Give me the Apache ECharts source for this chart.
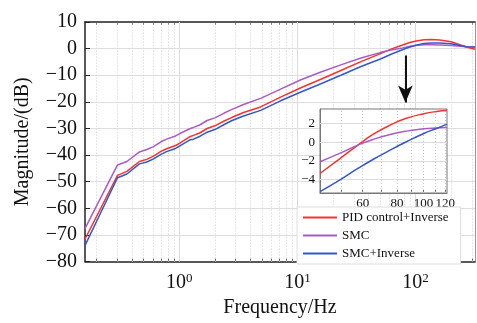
<!DOCTYPE html>
<html>
<head>
<meta charset="utf-8">
<script src="https://cdn.jsdelivr.net/npm/echarts@6/dist/echarts.min.js"></script>
<title>Magnitude</title>
<style>
  html, body { margin: 0; padding: 0; background: #fff; }
  #c { width: 477px; height: 323px; }
</style>
</head>
<body>
<div id="c"></div>
<script>
// main plot data (Hz, dB)
var freq   = [0.159, 0.30, 0.36, 0.46, 0.53, 0.60, 0.70, 0.78, 0.93, 1.02, 1.24, 1.32, 1.5, 1.72, 2.0, 2.4, 2.8, 3.5, 4.88, 7.2, 10.7, 15.8, 23.3, 34.5, 51, 62, 75.5, 88, 101, 118, 136, 160, 200, 269, 318];
var pidInv = [-71.6, -47.6, -46.1, -42.4, -41.6, -40.5, -38.6, -37.6, -36.4, -35.4, -33.0, -32.6, -31.6, -30.0, -29.0, -27.2, -25.8, -24.0, -21.9, -18.2, -14.7, -11.5, -8.2, -4.9, -1.8, -0.2, 1.2, 2.2, 2.9, 3.3, 3.4, 3.2, 2.6, 0.6, -0.2];
var smc    = [-67.6, -43.7, -42.4, -38.8, -37.9, -36.9, -35.0, -34.0, -32.8, -31.8, -30.0, -29.6, -28.6, -27.0, -26.0, -24.2, -22.8, -21.0, -18.7, -15.2, -11.7, -8.8, -6.1, -3.5, -1.4, -0.5, 0.1, 0.8, 1.3, 1.5, 1.5, 1.4, 1.2, 0.7, 0.6];
var smcInv = [-74.0, -48.5, -47.1, -43.3, -42.6, -41.5, -39.7, -38.7, -37.5, -36.4, -34.2, -34.0, -32.9, -31.4, -30.4, -28.5, -27.0, -25.3, -23.2, -19.6, -16.3, -13.2, -10.0, -6.7, -3.8, -2.1, -0.6, 0.5, 1.3, 1.9, 2.1, 2.1, 1.8, 0.7, 0.6];

// zoomed inset data
var insetFreq   = [41.9, 49.4, 57.6, 65.4, 75.5, 86.6, 100.3, 111.6, 121.9];
var insetPid    = [-3.36, -1.8, -0.32, 0.82, 1.82, 2.55, 3.05, 3.28, 3.38];
var insetSmc    = [-2.1, -1.2, -0.32, 0.29, 0.82, 1.18, 1.43, 1.52, 1.57];
var insetSmcInv = [-5.3, -4.07, -2.82, -1.86, -0.86, 0.04, 0.93, 1.46, 1.93];

var names = ['PID control+Inverse', 'SMC', 'SMC+Inverse'];
var colors = ['#F5332F', '#A85CC4', '#3558C9'];

var xMajor = [1, 10, 100];
var xMinor = [0.2, 0.3, 0.4, 0.5, 0.6, 0.7, 0.8, 0.9, 2, 3, 4, 5, 6, 7, 8, 9, 20, 30, 40, 50, 60, 70, 80, 90, 200, 300];
var yTicks = [-70, -60, -50, -40, -30, -20, -10, 0];
var insetXLabels = [60, 80, 100, 120];
var insetXMinor = [50, 60, 70, 80, 90, 100, 110, 120];
var insetYLabels = [-4, -2, 0, 2];

var font = '"Liberation Serif", "Times New Roman", serif';
var axisDark = '#222';

function pairs(xs, ys) {
  return xs.map(function (x, i) { return [x, ys[i]]; });
}
function minus(v) {
  return v < 0 ? '\u2212' + Math.abs(v) : String(v);
}
function vlines(vals, color, type) {
  return vals.map(function (v) {
    return { xAxis: v, lineStyle: { color: color, width: 1, type: type } };
  });
}
function hlines(vals, color) {
  return vals.map(function (v) {
    return { yAxis: v, lineStyle: { color: color, width: 1, type: 'solid' } };
  });
}

var mainSets = [pidInv, smc, smcInv];
var insetSets = [insetPid, insetSmc, insetSmcInv];

var series = [];
// grid lines of the main plot (kept under the curves)
series.push({
  name: 'gridMain', type: 'line', xAxisIndex: 0, yAxisIndex: 0, data: [], z: 1,
  markLine: { silent: true, symbol: 'none', label: { show: false }, animation: false, z: 1,
    data: vlines(xMajor, '#dadada', 'solid').concat(vlines(xMinor, '#cfcfcf', [1, 2]), hlines(yTicks, '#dedede')) }
});
for (var i = 0; i < 3; i++) {
  series.push({
    name: names[i], type: 'line', xAxisIndex: 0, yAxisIndex: 0,
    data: pairs(freq, mainSets[i]), showSymbol: false, symbol: 'none',
    lineStyle: { color: colors[i], width: 1.5 }, itemStyle: { color: colors[i] },
    z: 3
  });
}
// grid lines of the inset
series.push({
  name: 'gridInset', type: 'line', xAxisIndex: 3, yAxisIndex: 2, data: [], z: 7,
  markLine: { silent: true, symbol: 'none', label: { show: false }, animation: false, z: 7,
    data: vlines(insetXMinor, '#c8c8c8', [1, 2]).concat(hlines(insetYLabels, '#dcdcdc')) }
});
for (var j = 0; j < 3; j++) {
  series.push({
    name: names[j], type: 'line', xAxisIndex: 3, yAxisIndex: 2,
    data: pairs(insetFreq, insetSets[j]), showSymbol: false, symbol: 'none', smooth: true,
    lineStyle: { color: colors[j], width: 1.5 }, itemStyle: { color: colors[j] },
    z: 8
  });
}
// arrow pointing at the zoomed region
series[1].markLine = {
  silent: true, symbol: ['none', 'arrow'], symbolSize: [11, 17],
  label: { show: false }, z: 4,
  lineStyle: { color: '#111', width: 2, type: 'solid' },
  data: [[{ coord: [82, -2.6] }, { coord: [82, -20.2] }]]
};

var chart = echarts.init(document.getElementById('c'));
chart.setOption({
  animation: false,
  backgroundColor: '#fff',
  grid: [
    { left: 85, right: 2, top: 22, bottom: 54 },
    { left: 320, top: 109, width: 127, height: 84, show: true, backgroundColor: '#fff',
      borderColor: '#777', borderWidth: 1, z: 5 }
  ],
  legend: {
    data: names, orient: 'vertical', left: 297, top: 207, z: 10,
    padding: [4, 12, 4, 6], itemGap: 5, itemWidth: 34, itemHeight: 2, icon: 'rect',
    backgroundColor: '#fff', borderColor: '#ddd', borderWidth: 1,
    textStyle: { fontFamily: font, fontSize: 13, color: '#111' }
  },
  xAxis: [
    { type: 'log', gridIndex: 0, min: 0.1592, max: 318.3, position: 'bottom',
      name: 'Frequency/Hz', nameLocation: 'middle', nameGap: 24,
      nameTextStyle: { fontFamily: font, fontSize: 20, color: '#111' },
      axisLine: { onZero: false, lineStyle: { color: axisDark, width: 1.5 } },
      axisTick: { inside: true, length: 5, customValues: xMajor, lineStyle: { color: axisDark } },
      axisLabel: { customValues: xMajor, margin: 10,
        formatter: function (v) { return '{b|10}{s|' + Math.round(Math.log10(v)) + '}'; },
        rich: { b: { fontFamily: font, fontSize: 20, color: '#111' },
                s: { fontFamily: font, fontSize: 13, color: '#111', verticalAlign: 'top', padding: [0, 0, 10, 0] } } },
      splitLine: { show: false } },
    { type: 'log', gridIndex: 0, min: 0.1592, max: 318.3, position: 'bottom',
      axisLine: { show: false, onZero: false }, axisLabel: { show: false },
      axisTick: { inside: true, length: 3, customValues: xMinor, lineStyle: { color: '#555' } },
      splitLine: { show: false } },
    { type: 'log', gridIndex: 0, min: 0.1592, max: 318.3, position: 'top',
      axisLine: { onZero: false, lineStyle: { color: axisDark, width: 1.5 } }, axisLabel: { show: false },
      axisTick: { inside: true, length: 3, customValues: xMinor.concat(xMajor), lineStyle: { color: '#555' } },
      splitLine: { show: false } },
    { type: 'log', gridIndex: 1, min: 41.9, max: 121.9, z: 6,
      axisLine: { onZero: false, lineStyle: { color: '#777' } },
      axisTick: { inside: true, length: 3, customValues: insetXMinor, lineStyle: { color: '#777' } },
      axisLabel: { customValues: insetXLabels, margin: 4, fontFamily: font, fontSize: 13, color: '#111' },
      splitLine: { show: false } }
  ],
  yAxis: [
    { type: 'value', gridIndex: 0, min: -80, max: 10, interval: 10, z: 2,
      name: 'Magnitude/(dB)', nameLocation: 'middle', nameGap: 52,
      nameTextStyle: { fontFamily: font, fontSize: 20, color: '#111' },
      axisLine: { onZero: false, lineStyle: { color: axisDark, width: 1.5 } },
      axisTick: { inside: true, length: 5, lineStyle: { color: axisDark } },
      axisLabel: { formatter: minus, margin: 8, fontFamily: font, fontSize: 20, color: '#111' },
      splitLine: { show: false } },
    { type: 'value', gridIndex: 0, min: -80, max: 10, interval: 10, position: 'right',
      axisLine: { show: true, onZero: false, lineStyle: { color: '#999' } },
      axisTick: { show: true, inside: true, length: 4, lineStyle: { color: '#555' } },
      axisLabel: { show: false }, splitLine: { show: false } },
    { type: 'value', gridIndex: 1, min: -5.45, max: 3.55, z: 6,
      axisLine: { onZero: false, lineStyle: { color: '#777' } },
      axisTick: { inside: true, length: 3, customValues: insetYLabels, lineStyle: { color: '#777' } },
      axisLabel: { customValues: insetYLabels, formatter: minus, margin: 5, fontFamily: font, fontSize: 13, color: '#111' },
      splitLine: { show: false } }
  ],
  series: series
});
</script>
</body>
</html>
